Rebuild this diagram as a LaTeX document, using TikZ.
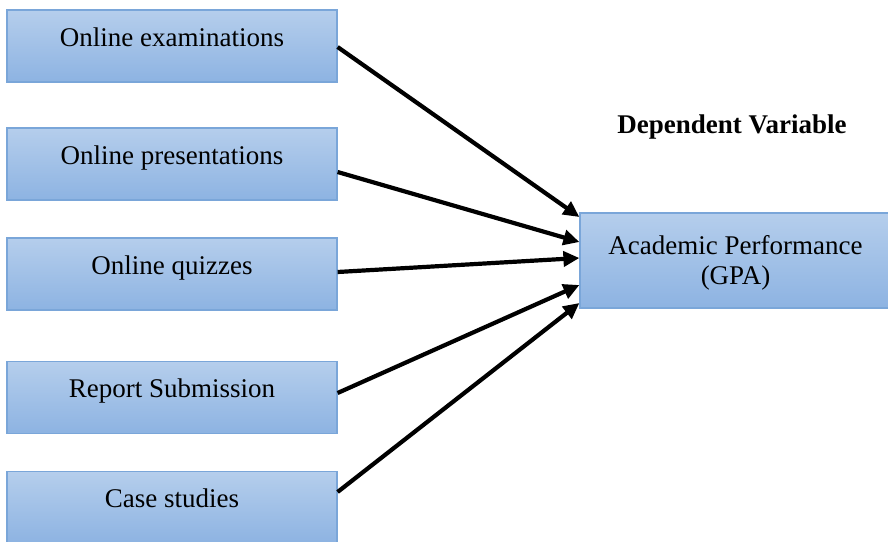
\documentclass[tikz,border=0pt]{standalone}
\usepackage{fontspec}
\setmainfont{Liberation Serif}[BoldFont={Liberation Serif Bold}]
\usetikzlibrary{arrows.meta}
\definecolor{boxtop}{HTML}{B5CEEC}
\definecolor{boxbot}{HTML}{8DB3E2}
\definecolor{boxline}{HTML}{7AA6D9}
\tikzset{
  varbox/.style={draw=boxline, line width=1.2pt, top color=boxtop, bottom color=boxbot,
    minimum width=330pt, minimum height=72pt, inner sep=0pt,
    font=\fontsize{27}{30}\selectfont, text height=8pt, text depth=8pt},
  depbox/.style={draw=boxline, line width=1.2pt, top color=boxtop, bottom color=boxbot,
    minimum width=311pt, minimum height=95pt, inner sep=0pt, align=center,
    font=\fontsize{27}{30}\selectfont, text height=52pt, text depth=5pt},
  link/.style={line width=4.2pt, -{Triangle[length=16pt,width=15pt]}},
}
\begin{document}
\begin{tikzpicture}[x=1pt,y=-1pt]
\useasboundingbox (0,0) rectangle (888,541);
\node[varbox] (b1) at (172,46) {Online examinations};
\node[varbox] (b2) at (172,164) {Online presentations};
\node[varbox] (b3) at (172,274) {Online quizzes};
\node[varbox] (b4) at (172,397.5) {Report Submission};
\node[varbox] (b5) at (172,507.5) {Case studies};
\node[depbox] (gpa) at (735.5,260.5) {Academic Performance\\(GPA)};
\node[font=\fontsize{27}{30}\selectfont\bfseries, anchor=base] (dv) at (732,133) {Dependent Variable};
\draw[link] ([yshift=-1pt]b1.east) -- ([yshift=43.5pt]gpa.west);
\draw[link] ([yshift=-8pt]b2.east) -- ([yshift=18.5pt]gpa.west);
\draw[link] ([yshift=2pt]b3.east) -- ([yshift=2.5pt]gpa.west);
\draw[link] ([yshift=4.5pt]b4.east) -- ([yshift=-24.5pt]gpa.west);
\draw[link] ([yshift=15.5pt]b5.east) -- ([yshift=-42.5pt]gpa.west);
\end{tikzpicture}
\end{document}
